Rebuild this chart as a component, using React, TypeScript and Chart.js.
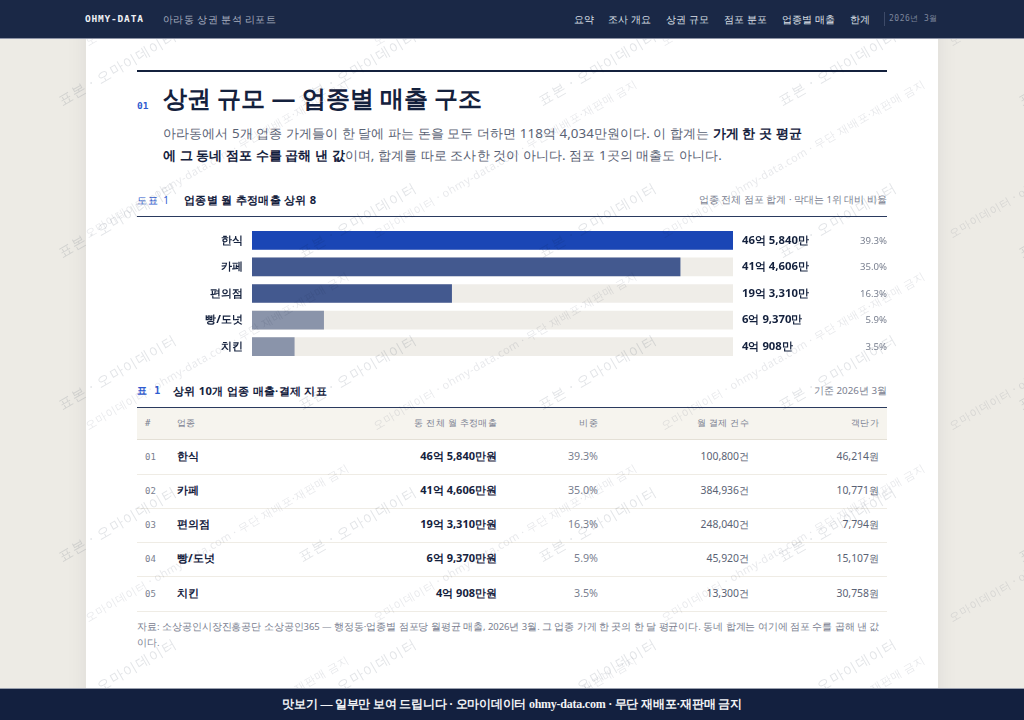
import { useEffect, useRef } from 'react';
import { Chart, registerables, Plugin } from 'chart.js';

Chart.register(...registerables);

const categories = ['한식', '카페', '편의점', '빵/도넛', '치킨'];
// 월 추정매출, 만원 단위
const salesMan = [465840, 414606, 193310, 69370, 40908];
const salesLabels = ['46억 5,840만', '41억 4,606만', '19억 3,310만', '6억 9,370만', '4억 908만'];
const shares = ['39.3%', '35.0%', '16.3%', '5.9%', '3.5%'];
const payments = ['100,800건', '384,936건', '248,040건', '45,920건', '13,300건'];
const unitPrices = ['46,214원', '10,771원', '7,794원', '15,107원', '30,758원'];
const barColors = ['#1a46b5', '#43598f', '#43598f', '#8a94aa', '#8a94aa'];
const navItems = ['요약', '조사 개요', '상권 규모', '점포 분포', '업종별 매출', '한계'];

const NAVY = '#14213d';
const SANS = "'Noto Sans', sans-serif";
const MONO = "'DejaVu Sans Mono', monospace";
const topMax = Math.max(...salesMan);

const rowLabels: Plugin<'bar'> = {
  id: 'rowLabels',
  afterDatasetsDraw(chart) {
    const { ctx, scales } = chart;
    const area = chart.chartArea;
    ctx.save();
    ctx.textBaseline = 'middle';
    categories.forEach((_, i) => {
      const y = scales.y.getPixelForValue(i);
      ctx.textAlign = 'left';
      ctx.fillStyle = NAVY;
      ctx.font = `700 11.3px ${SANS}`;
      ctx.fillText(salesLabels[i], area.right + 9, y);
      ctx.textAlign = 'right';
      ctx.fillStyle = '#7a8090';
      ctx.font = `400 9.6px ${SANS}`;
      ctx.fillText(shares[i], chart.width, y + 0.5);
    });
    ctx.restore();
  },
};

const SalesBars = () => {
  const canvasRef = useRef<HTMLCanvasElement | null>(null);

  useEffect(() => {
    if (!canvasRef.current) return;
    const chart = new Chart(canvasRef.current, {
      type: 'bar',
      data: {
        labels: categories,
        datasets: [
          {
            data: salesMan,
            backgroundColor: barColors,
            barThickness: 18,
            order: 1,
          },
          {
            data: categories.map(() => topMax),
            backgroundColor: '#efede8',
            barThickness: 18,
            order: 2,
          },
        ],
      },
      options: {
        indexAxis: 'y',
        animation: false,
        responsive: false,
        maintainAspectRatio: false,
        layout: { autoPadding: false, padding: { top: 1, bottom: 1, right: 154, left: 0 } },
        datasets: { bar: { grouped: false } },
        plugins: { legend: { display: false }, tooltip: { enabled: false } },
        scales: {
          x: { display: false, min: 0, max: topMax },
          y: {
            grid: { display: false, drawTicks: false },
            border: { display: false },
            afterFit: (scale) => {
              scale.width = 115;
              // tick padding must not eat into the row height
              scale.paddingTop = 0;
              scale.paddingBottom = 0;
              scale._margins.top = 0;
              scale._margins.bottom = 0;
            },
            ticks: {
              color: NAVY,
              padding: 9,
              font: { family: SANS, size: 11.3, weight: 700 },
            },
          },
        },
      },
      plugins: [rowLabels],
    });
    return () => chart.destroy();
  }, []);

  return (
    <canvas
      ref={canvasRef}
      width={750}
      height={135}
      style={{ position: 'absolute', left: 137, top: 226, width: 750, height: 135, display: 'block' }}
    />
  );
};

const at = (left: number, top: number, extra: React.CSSProperties = {}): React.CSSProperties => ({
  position: 'absolute',
  left,
  top,
  whiteSpace: 'nowrap',
  ...extra,
});

const atRight = (right: number, top: number, extra: React.CSSProperties = {}): React.CSSProperties => ({
  position: 'absolute',
  right: 1024 - right,
  top,
  whiteSpace: 'nowrap',
  ...extra,
});

// 대각선 표본 워터마크
const Watermarks = () => {
  const marks = [];
  for (let row = 0; row < 5; row++) {
    for (let col = 0; col < 5; col++) {
      marks.push(
        <span
          key={`a${row}-${col}`}
          style={at(64 + col * 240, 109 + row * 152 - 18, {
            fontSize: 14,
            letterSpacing: 1,
            color: 'rgba(20,30,60,0.12)',
            transform: 'rotate(-30deg)',
            transformOrigin: '0 100%',
            lineHeight: '18px',
          })}
        >
          표본 · 오마이데이터
        </span>
      );
    }
  }
  for (let row = -1; row < 5; row++) {
    for (let col = 0; col < 4; col++) {
      marks.push(
        <span
          key={`b${row}-${col}`}
          style={at(90 + col * 288, 241 + row * 192 - 16, {
            fontSize: 11,
            letterSpacing: 0.5,
            color: 'rgba(20,30,60,0.1)',
            transform: 'rotate(-30deg)',
            transformOrigin: '0 100%',
            lineHeight: '16px',
          })}
        >
          오마이데이터 · ohmy-data.com · 무단 재배포·재판매 금지
        </span>
      );
    }
  }
  return <div style={{ position: 'absolute', inset: 0, overflow: 'hidden', pointerEvents: 'none', zIndex: 5 }}>{marks}</div>;
};

const TopBar = () => {
  const navLeft = [574, 608, 666, 724, 782, 850];
  return (
    <div style={{ position: 'absolute', left: 0, top: 0, width: 1024, height: 38, background: '#1a2846', zIndex: 10, borderBottom: '1px solid #8d94a6', boxSizing: 'content-box' }}>
      <span style={at(85, 12, { fontFamily: MONO, fontWeight: 700, fontSize: 9.5, letterSpacing: 0.8, color: '#eef0f4', lineHeight: '14px' })}>OHMY-DATA</span>
      <span style={at(163, 11, { fontSize: 10.3, letterSpacing: 0.4, color: '#a9b0c0', lineHeight: '16px' })}>아라동 상권 분석 리포트</span>
      {navItems.map((item, i) => (
        <span key={item} style={at(navLeft[i], 11, { fontSize: 10.2, color: '#dde0e8', lineHeight: '16px' })}>{item}</span>
      ))}
      <div style={{ position: 'absolute', left: 884, top: 12, width: 1, height: 14, background: '#3d4a68' }} />
      <span style={at(889, 12, { fontFamily: MONO, fontSize: 8, letterSpacing: 0.5, color: '#7d869c', lineHeight: '14px' })}>2026년 3월</span>
    </div>
  );
};

const App = () => {
  const rowTops = [440, 474, 508, 542, 577];
  return (
    <div style={{ position: 'fixed', left: 0, top: 0, width: 1024, height: 720, overflow: 'hidden', background: '#edebe5', fontFamily: SANS }}>
      <style>{'body{margin:0}'}</style>
      <div style={{ position: 'absolute', left: 86, top: 0, width: 852, height: 720, background: '#fff', boxShadow: '0 0 20px rgba(20,30,60,0.07)' }} />
      <TopBar />

      <div style={{ position: 'absolute', left: 137, top: 70, width: 750, height: 2, background: NAVY }} />
      <span style={at(137, 100, { fontFamily: MONO, fontWeight: 700, fontSize: 9.5, color: '#2f5bd0', lineHeight: '12px' })}>01</span>
      <span style={at(163, 79, { fontSize: 24, fontWeight: 700, color: NAVY, lineHeight: '38px' })}>상권 규모 — 업종별 매출 구조</span>
      <div style={at(163, 122, { fontSize: 13.35, letterSpacing: 0.07, lineHeight: '22px', color: '#5a6274' })}>
        아라동에서 5개 업종 가게들이 한 달에 파는 돈을 모두 더하면 118억 4,034만원이다. 이 합계는 <b style={{ color: NAVY }}>가게 한 곳 평균</b>
        <br />
        <b style={{ color: NAVY }}>에 그 동네 점포 수를 곱해 낸 값</b>이며, 합계를 따로 조사한 것이 아니다. 점포 1곳의 매출도 아니다.
      </div>

      <span style={at(137, 193, { fontSize: 10, letterSpacing: 1.2, color: '#2f5bd0', lineHeight: '14px' })}>도표 1</span>
      <span style={at(184, 193, { fontSize: 11.2, letterSpacing: 0.3, fontWeight: 700, color: NAVY, lineHeight: '14px' })}>업종별 월 추정매출 상위 8</span>
      <span style={atRight(887, 193, { fontSize: 9.65, color: '#7a8090', lineHeight: '14px' })}>업종 전체 점포 합계 · 막대는 1위 대비 비율</span>
      <div style={{ position: 'absolute', left: 137, top: 216, width: 750, height: 1, background: '#2a3a5e' }} />
      <SalesBars />

      <span style={at(137, 384, { fontFamily: MONO, fontSize: 10, fontWeight: 700, letterSpacing: 0.6, color: '#2f5bd0', lineHeight: '14px' })}>표 1</span>
      <span style={at(173, 384, { fontSize: 11.2, letterSpacing: 0.3, fontWeight: 700, color: NAVY, lineHeight: '14px' })}>상위 10개 업종 매출·결제 지표</span>
      <span style={atRight(887, 384, { fontSize: 9.8, color: '#7a8090', lineHeight: '14px' })}>기준 2026년 3월</span>
      <div style={{ position: 'absolute', left: 137, top: 407, width: 750, height: 1, background: '#2a3a5e' }} />
      <div style={{ position: 'absolute', left: 137, top: 408, width: 750, height: 32, background: '#f6f4ee', borderBottom: '1px solid #e4e0d6', boxSizing: 'border-box' }} />
      <span style={at(145, 416, { fontFamily: MONO, fontSize: 9, color: '#7a8090', lineHeight: '14px' })}>#</span>
      <span style={at(177, 416, { fontSize: 9.4, letterSpacing: 0.3, color: '#7a8090', lineHeight: '14px' })}>업종</span>
      <span style={atRight(497, 416, { fontSize: 9.4, letterSpacing: 0.3, color: '#7a8090', lineHeight: '14px' })}>동 전체 월 추정매출</span>
      <span style={atRight(598, 416, { fontSize: 9.4, letterSpacing: 0.3, color: '#7a8090', lineHeight: '14px' })}>비중</span>
      <span style={atRight(749, 416, { fontSize: 9.4, letterSpacing: 0.3, color: '#7a8090', lineHeight: '14px' })}>월 결제 건수</span>
      <span style={atRight(879, 416, { fontSize: 9.4, letterSpacing: 0.3, color: '#7a8090', lineHeight: '14px' })}>객단가</span>
      {categories.map((name, i) => {
        const top = rowTops[i];
        return (
          <div key={name}>
            <span style={at(145, top + 10, { fontFamily: MONO, fontSize: 9, color: '#7a8090', lineHeight: '14px' })}>{`0${i + 1}`}</span>
            <span style={at(177, top + 8, { fontSize: 11.2, fontWeight: 700, color: NAVY, lineHeight: '16px' })}>{name}</span>
            <span style={atRight(497, top + 8, { fontSize: 11, fontWeight: 700, color: NAVY, lineHeight: '16px' })}>{`${salesLabels[i]}원`}</span>
            <span style={atRight(598, top + 8, { fontSize: 10.7, color: '#7a8090', lineHeight: '16px' })}>{shares[i]}</span>
            <span style={atRight(749, top + 8, { fontSize: 10.4, color: '#5a6274', lineHeight: '16px' })}>{payments[i]}</span>
            <span style={atRight(879, top + 8, { fontSize: 10.4, color: '#5a6274', lineHeight: '16px' })}>{unitPrices[i]}</span>
            <div style={{ position: 'absolute', left: 137, top: top + 34, width: 750, height: 1, background: '#efece5' }} />
          </div>
        );
      })}

      <div style={{ position: 'absolute', left: 137, top: 619, width: 750, fontSize: 9.5, letterSpacing: -0.05, lineHeight: '16px', color: '#7a8090' }}>
        자료: 소상공인시장진흥공단 소상공인365 — 행정동·업종별 점포당 월평균 매출, 2026년 3월. 그 업종 가게 한 곳의 한 달 평균이다. 동네 합계는 여기에 점포 수를 곱해 낸 값<br />이다.
      </div>

      <Watermarks />

      <div style={{ position: 'absolute', left: 0, top: 688, width: 1024, height: 32, background: '#13203f', borderTop: '1px solid #9aa0ae', boxSizing: 'border-box', textAlign: 'center', color: '#f2f3f6', fontSize: 12, letterSpacing: -0.24, fontWeight: 700, lineHeight: '30px', zIndex: 10, fontFamily: 'serif' }}>
        맛보기 — 일부만 보여 드립니다 · 오마이데이터 ohmy-data.com · 무단 재배포·재판매 금지
      </div>
    </div>
  );
};

export default App;
